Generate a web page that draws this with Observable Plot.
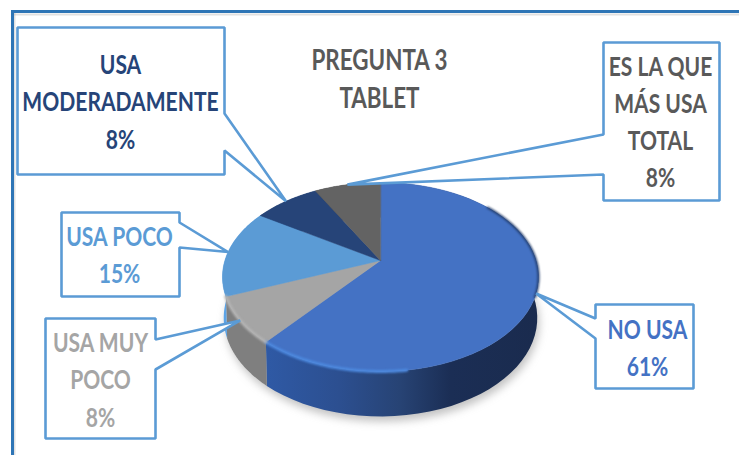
<!DOCTYPE html>
<html lang="es">
<head>
<meta charset="utf-8">
<title>Pregunta 3 - Tablet</title>
<script src="https://cdn.jsdelivr.net/npm/d3@7"></script>
<script src="https://cdn.jsdelivr.net/npm/@observablehq/plot@0.6"></script>
<style>
  html, body { margin: 0; padding: 0; background: #fff; }
  svg { display: block; }
</style>
</head>
<body>
<div id="chart"></div>
<script>
// Answers and their shares, clockwise from the top of the pie
const categories = ["NO USA", "USA MUY\nPOCO", "USA POCO", "USA\nMODERADAMENTE", "ES LA QUE\nMÁS USA\nTOTAL"];
const shares = [61, 8, 15, 8, 8];
const faceColors = ["#4472c4", "#a5a5a5", "#5b9bd5", "#264478", "#636363"];
const wallColors = ["url(#blueWall)", "#7f7f7f", "#5ba3e6", "#1f3864", "#4a4a4a"];
const textColors = ["#4472c4", "#a5a5a5", "#5b9bd5", "#264478", "#595959"];
const titleLines = "PREGUNTA 3\nTABLET";

// Callout boxes, one per answer: left, right, top, bottom, and the two points
// on the side facing the pie where the pointer starts
const boxLeft = [595, 45, 61, 17, 603];
const boxRight = [693, 155, 179, 224, 719];
const boxTop = [304, 318, 212, 27, 42];
const boxBottom = [388, 438, 296, 174, 200];
const pointerTop = [318, 339, 222, 113, 134];
const pointerBottom = [338, 369, 247, 150, 174];
const labelX = [647, 100, 119, 120, 660];
const labelY = [345, 377, 252, 99, 119];

// The tilted pie: a disc seen in perspective, so the centre sits above the
// middle of the ellipse it projects to
const cx = 380, cy = 260, radiusX = 155.6, liftA = 46.2, tilt = -0.1746;
const project = (deg) => {
  const a = (deg * Math.PI) / 180;
  const u = Math.sin(a), v = -Math.cos(a), w = tilt * v + 1;
  return {x: cx + (radiusX * u) / w, y: (liftA * v + cy) / w, v};
};
const under = ({x, y, v}) => ({x: cx + (x - cx) * 0.992, y: y + 40 + 5 * v});
const arc = (from, to) => d3.range(0, 61).map((i) => project(from + ((to - from) * i) / 60));

let running = 0;
const slices = shares.map((share, i) => {
  const from = (running / 100) * 360;
  running += share;
  const to = (running / 100) * 360;
  return {i, from, to, mid: (from + to) / 2};
});

const face = slices.flatMap((s) => [{x: cx, y: cy, i: s.i}, ...arc(s.from, s.to).map((p) => ({...p, i: s.i}))]);
const walls = slices.map((s) => {
  const top = arc(s.from, s.to);
  return [...top, ...top.map(under).reverse()];
});
const outline = arc(0, 360).map(under);

// Callout outline: the box with a pointer running to the rim at the slice's middle
const callouts = slices.flatMap((s) => {
  const i = s.i, tip = project(s.mid);
  const l = boxLeft[i], r = boxRight[i], t = boxTop[i], b = boxBottom[i];
  const a = pointerTop[i], c = pointerBottom[i];
  const path = tip.x > r
    ? [[l, t], [r, t], [r, a], [tip.x, tip.y], [r, c], [r, b], [l, b]]
    : [[l, t], [r, t], [r, b], [l, b], [l, c], [tip.x, tip.y], [l, a]];
  return path.map(([x, y]) => ({x, y, i}));
});

const labels = slices.map((s) => ({
  text: `${categories[s.i]}\n${shares[s.i]}%`,
  x: labelX[s.i], y: labelY[s.i], color: textColors[s.i]
}));

// Lit and shaded stretches of the rim
const rimLit = arc(172, 219.6);
const rimGrey = arc(219.6, 248.4);
const rimDark = arc(50, 112);

const wallGradient = () => {
  const defs = d3.create("svg:defs");
  const g = defs.append("linearGradient").attr("id", "blueWall")
    .attr("gradientUnits", "userSpaceOnUse")
    .attr("x1", 262).attr("x2", 538).attr("y1", 0).attr("y2", 0);
  [[0, "#2f5aa6"], [0.28, "#2c4f90"], [0.5, "#274374"], [0.68, "#1b2e55"], [1, "#1a2b4e"]]
    .forEach(([o, c]) => g.append("stop").attr("offset", o).attr("stop-color", c));
  return defs.node();
};

// Squeezes each text horizontally about its anchor, for a condensed look
const condensed = (factor) => (index, scales, values, dimensions, context, next) => {
  const g = next(index, scales, values, dimensions, context);
  g.querySelectorAll("text").forEach((t) => {
    t.setAttribute("transform", `${t.getAttribute("transform") || ""} scale(${factor},1)`);
  });
  return g;
};

const font = "Lato, 'Open Sans', sans-serif";
const frame = "#2e75b6";

const chart = Plot.plot({
  width: 739,
  height: 455,
  margin: 0,
  style: {background: "#fff"},
  x: {domain: [0, 739], range: [0, 739], axis: null},
  y: {domain: [0, 455], range: [0, 455], axis: null},
  marks: [
    wallGradient,
    // Frame around the chart area
    Plot.ruleX([14], {y1: 13, y2: 455, stroke: "#9a9a9a", strokeWidth: 2, strokeOpacity: 0.3}),
    Plot.ruleY([14], {x1: 13, x2: 739, stroke: "#9a9a9a", strokeWidth: 2, strokeOpacity: 0.3}),
    Plot.ruleX([12], {y1: 10, y2: 455, stroke: frame, strokeWidth: 3}),
    Plot.ruleY([11], {x1: 11, x2: 739, stroke: frame, strokeWidth: 3}),
    // Soft shadow under the disc
    Plot.line(outline, {x: (d) => d.x + 2, y: (d) => d.y + 5, fill: "#777", fillOpacity: 0.45, stroke: "none", curve: "linear-closed", imageFilter: "blur(4px)"}),
    // Side wall, then the top face
    ...walls.map((w, i) => Plot.line(w, {x: "x", y: "y", fill: wallColors[i], stroke: "none", curve: "linear-closed"})),
    Plot.line(face, {x: "x", y: "y", z: "i", fill: (d) => faceColors[d.i], stroke: (d) => faceColors[d.i], strokeWidth: 0.5, curve: "linear-closed"}),
    Plot.line(rimLit, {x: "x", y: "y", stroke: "#4d8ae0", strokeWidth: 3, imageFilter: "blur(1px)"}),
    Plot.line(rimGrey, {x: "x", y: "y", stroke: "#b4b4b4", strokeWidth: 3, imageFilter: "blur(1px)"}),
    Plot.line(rimDark, {x: "x", y: "y", stroke: "#1f3864", strokeWidth: 2, imageFilter: "blur(0.8px)"}),
    // Callouts and their text
    Plot.line(callouts, {x: "x", y: "y", z: "i", fill: "#fff", stroke: "#5b9bd5", strokeWidth: 2.6, strokeLinejoin: "miter", curve: "linear-closed"}),
    Plot.text(labels, {x: "x", y: "y", text: "text", fill: "color", fontFamily: font, fontSize: 27, fontWeight: 700, lineHeight: 1.38, lineAnchor: "middle", textAnchor: "middle", render: condensed(0.78)}),
    Plot.text([titleLines], {x: () => 379, y: () => 76, text: (d) => d, fill: "#595959", fontFamily: font, fontSize: 28, fontWeight: 700, lineHeight: 1.38, lineAnchor: "middle", textAnchor: "middle", render: condensed(0.8)})
  ]
});
document.getElementById("chart").append(chart);
</script>
</body>
</html>
